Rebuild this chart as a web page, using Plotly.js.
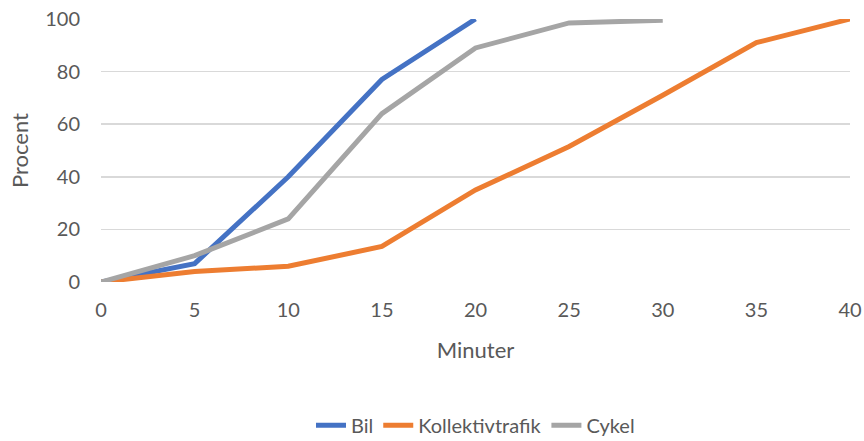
<!DOCTYPE html>
<html>
<head>
<meta charset="utf-8">
<script src="https://cdn.plot.ly/plotly-3.0.1.min.js"></script>
<style>
  html, body { margin: 0; padding: 0; background: #ffffff; }
  #chart { width: 864px; height: 441px; }
</style>
</head>
<body>
<div id="chart"></div>
<script>
// Share of trips (percent, cumulative) reached within a given number of minutes
const minutes = [0, 5, 10, 15, 20, 25, 30, 35, 40];
const bil = [0, 7, 40, 77, 100];
const kollektivtrafik = [0, 4, 6, 13.5, 35, 51.5, 71, 91, 100];
const cykel = [0, 10, 24, 64, 89, 98.5, 99.5];

const seriesNames = ['Bil', 'Kollektivtrafik', 'Cykel'];
const seriesColors = ['#4472C4', '#ED7D31', '#A5A5A5'];
const seriesValues = [bil, kollektivtrafik, cykel];

const textColor = '#595959';
const fontFamily = 'Lato, "Open Sans", sans-serif';

const traces = seriesValues.map((vals, i) => ({
  type: 'scatter',
  mode: 'lines',
  name: seriesNames[i],
  x: minutes.slice(0, vals.length),
  y: vals,
  line: { color: seriesColors[i], width: 5 },
  hoverinfo: 'x+y+name'
}));

const layout = {
  width: 864,
  height: 441,
  margin: { l: 101, r: 14, t: 19, b: 159, autoexpand: false },
  paper_bgcolor: '#ffffff',
  plot_bgcolor: '#ffffff',
  font: { family: fontFamily, color: textColor, size: 20 },
  showlegend: true,
  legend: {
    orientation: 'h',
    x: 0.5,
    xanchor: 'center',
    y: -0.545,
    yanchor: 'middle',
    font: { size: 20, color: textColor },
    itemwidth: 30,
    traceorder: 'normal'
  },
  xaxis: {
    range: [0, 40],
    tickvals: minutes,
    ticktext: minutes.map(String),
    showgrid: false,
    zeroline: false,
    showline: false,
    ticks: '',
    ticklabelstandoff: 14,
    tickfont: { size: 20, color: textColor },
    title: { text: 'Minuter', font: { size: 22, color: textColor }, standoff: 22 },
    automargin: false,
    fixedrange: true
  },
  yaxis: {
    range: [0, 100],
    tickvals: [0, 20, 40, 60, 80, 100],
    showgrid: true,
    gridcolor: '#D9D9D9',
    gridwidth: 1.5,
    zeroline: false,
    showline: false,
    ticks: '',
    ticklabelstandoff: 20,
    tickfont: { size: 20, color: textColor },
    title: { text: 'Procent', font: { size: 22, color: textColor }, standoff: 10 },
    automargin: false,
    fixedrange: true
  }
};

Plotly.newPlot('chart', traces, layout, { displayModeBar: false, staticPlot: true });
</script>
</body>
</html>
